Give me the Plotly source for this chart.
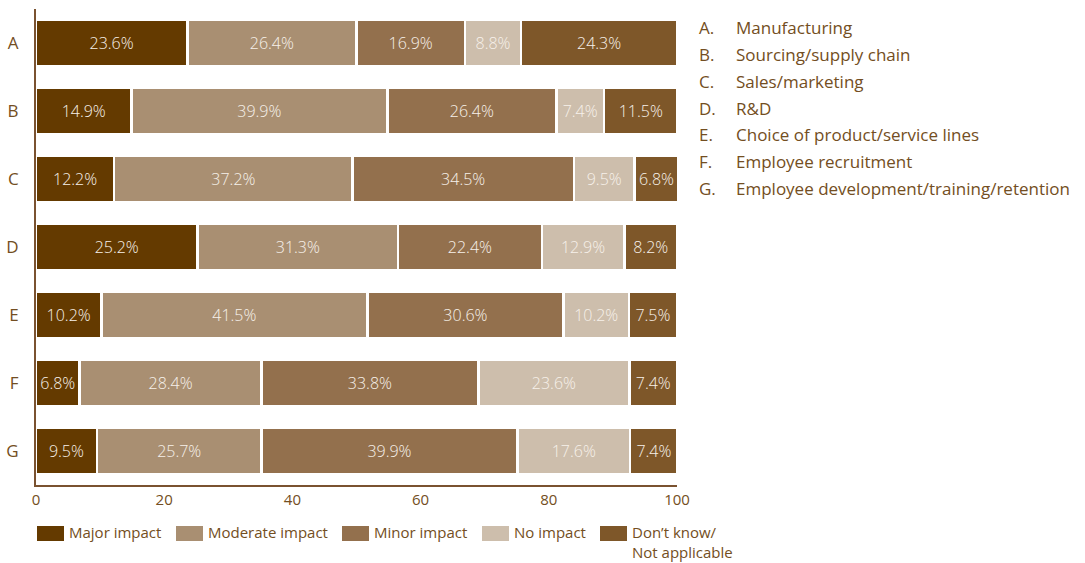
import plotly.graph_objects as go

categories = ["A", "B", "C", "D", "E", "F", "G"]
series_names = ["Major impact", "Moderate impact", "Minor impact", "No impact", "Don’t know/<br>Not applicable"]
major = [23.6, 14.9, 12.2, 25.2, 10.2, 6.8, 9.5]
moderate = [26.4, 39.9, 37.2, 31.3, 41.5, 28.4, 25.7]
minor = [16.9, 26.4, 34.5, 22.4, 30.6, 33.8, 39.9]
no_impact = [8.8, 7.4, 9.5, 12.9, 10.2, 23.6, 17.6]
dont_know = [24.3, 11.5, 6.8, 8.2, 7.5, 7.4, 7.4]
category_letters = ["A.", "B.", "C.", "D.", "E.", "F.", "G."]
category_names = ["Manufacturing", "Sourcing/supply chain", "Sales/marketing", "R&D",
                  "Choice of product/service lines", "Employee recruitment",
                  "Employee development/training/retention"]
x_ticks = [0, 20, 40, 60, 80, 100]

colors = ["#643A00", "#A98F72", "#93704D", "#CDBEAC", "#7E5729"]
text_col = "#734E22"
font_fam = "Open Sans, Roboto, sans-serif"

fig = go.Figure()
for name, vals, col in zip(series_names, [major, moderate, minor, no_impact, dont_know], colors):
    fig.add_trace(go.Bar(
        y=categories, x=vals, orientation="h", name=name,
        marker=dict(color=col, line=dict(color="white", width=2.5)),
        text=[f"{v:.1f}%" for v in vals], textposition="inside",
        insidetextanchor="middle", constraintext="none",
        textfont=dict(color="#F7F1EA", size=16, family=font_fam, weight=300),
        showlegend=False, hoverinfo="x+y+name",
    ))

W, H = 1085, 563
L, R, T, B = 36, 408, 9, 78
pw = W - L - R
ph = H - T - B

def px(xp):
    return (xp - L) / pw

def py(yp):
    return (H - B - yp) / ph

# custom legend
leg_x = [37, 176, 342, 482, 600]
shapes = []
annotations = []
for i, (name, col) in enumerate(zip(series_names, colors)):
    shapes.append(dict(type="rect", xref="paper", yref="paper",
                       x0=px(leg_x[i]), x1=px(leg_x[i] + 27), y0=py(541), y1=py(526),
                       fillcolor=col, line=dict(width=0)))
    annotations.append(dict(xref="paper", yref="paper", x=px(leg_x[i] + 30), y=py(520),
                            text=name, showarrow=False, xanchor="left", yanchor="top", align="left",
                            font=dict(size=15, color=text_col, family=font_fam)))

# category name list on the right
for i, (lt, t) in enumerate(zip(category_letters, category_names)):
    yy = py(28 + i * 26.7)
    annotations.append(dict(xref="paper", yref="paper", x=px(697), y=yy,
                            text=lt, showarrow=False, xanchor="left", yanchor="middle",
                            font=dict(size=17, color=text_col, family=font_fam)))
    annotations.append(dict(xref="paper", yref="paper", x=px(734), y=yy,
                            text=t, showarrow=False, xanchor="left", yanchor="middle",
                            font=dict(size=17, color=text_col, family=font_fam)))

fig.update_layout(
    barmode="stack", bargap=0.31,
    width=W, height=H,
    margin=dict(l=L, r=R, t=T, b=B, autoexpand=False),
    paper_bgcolor="white", plot_bgcolor="white",
    uniformtext=dict(minsize=15, mode="show"),
    font=dict(family=font_fam, color=text_col),
    shapes=shapes, annotations=annotations,
    xaxis=dict(range=[0, 100], tickvals=x_ticks, showgrid=False, zeroline=False,
               showline=True, linecolor="#7A5230", linewidth=2,
               tickfont=dict(size=15, color=text_col), ticks="", ticklen=0),
    yaxis=dict(autorange="reversed", showgrid=False, zeroline=False,
               showline=True, linecolor="#7A5230", linewidth=2,
               tickfont=dict(size=17, color=text_col), ticks="", ticklabelstandoff=12),
)

fig.write_html("out.html", config={"displayModeBar": False},
               post_script="document.body.style.margin='0';")
